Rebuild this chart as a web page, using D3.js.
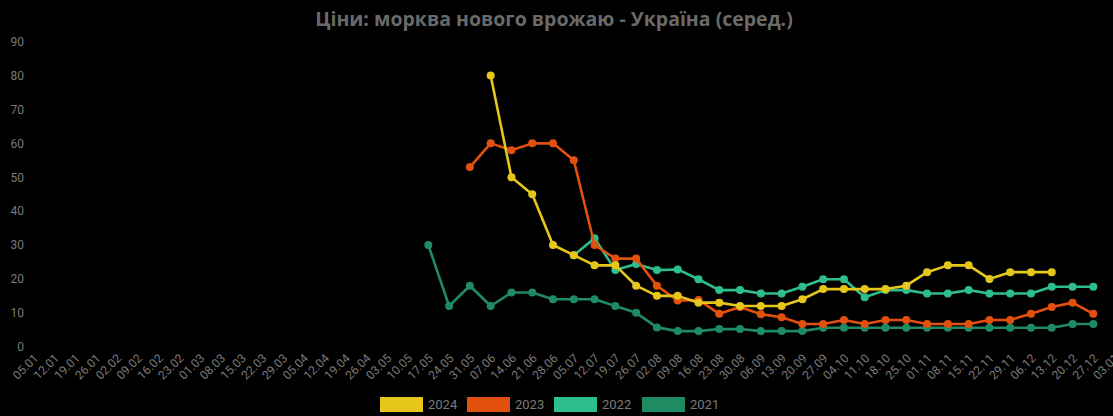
<!DOCTYPE html>
<html>
<head>
<meta charset="utf-8">
<script src="https://cdn.jsdelivr.net/npm/d3@7"></script>
<style>
  html, body { margin: 0; padding: 0; background: #000; }
  svg { display: block; }
</style>
</head>
<body>
<svg id="chart" width="1113" height="416"></svg>
<script>
const title = "Ціни: морква нового врожаю - Україна (серед.)";
const weekLabels = ["05.01","12.01","19.01","26.01","02.02","09.02","16.02","23.02","01.03","08.03","15.03","22.03","29.03","05.04","12.04","19.04","26.04","03.05","10.05","17.05","24.05","31.05","07.06","14.06","21.06","28.06","05.07","12.07","19.07","26.07","02.08","09.08","16.08","23.08","30.08","06.09","13.09","20.09","27.09","04.10","11.10","18.10","25.10","01.11","08.11","15.11","22.11","29.11","06.12","13.12","20.12","27.12","03.01"];
const yTicks = [0,10,20,30,40,50,60,70,80,90];

const seriesNames = ["2024","2023","2022","2021"];
const seriesColors = ["#E6C61B","#E2500E","#2EBE8D","#1F8B62"];

// start index in weekLabels + values
const start2024 = 22;
const values2024 = [80,50,45,30,27,24,24,18,15,15,13,13,12,12,12,14,17,17,17,17,18,22,24,24,20,22,22,22];
const start2023 = 21;
const values2023 = [53,60,58,60,60,55,30,26,26,18,13.6,13.8,9.7,11.7,9.6,8.7,6.7,6.7,7.9,6.7,7.9,7.9,6.7,6.7,6.7,7.9,7.9,9.7,11.7,13,9.7];
const start2022 = 26;
const values2022 = [27,32,22.6,24.4,22.6,22.8,19.9,16.7,16.7,15.7,15.7,17.7,19.9,19.9,14.6,16.7,16.7,15.7,15.7,16.7,15.7,15.7,15.7,17.7,17.7,17.7];
const start2021 = 19;
const values2021 = [30,12,18,12,16,16,14,14,14,12,10,5.7,4.6,4.6,5.2,5.2,4.6,4.6,4.6,5.6,5.6,5.6,5.6,5.6,5.6,5.6,5.6,5.6,5.6,5.6,5.6,6.7,6.7];

const series = [
  {name:"2021", color: seriesColors[3], start: start2021, values: values2021},
  {name:"2022", color: seriesColors[2], start: start2022, values: values2022},
  {name:"2023", color: seriesColors[1], start: start2023, values: values2023},
  {name:"2024", color: seriesColors[0], start: start2024, values: values2024}
].map(s => ({...s, points: s.values.map((v,i) => ({label: weekLabels[s.start+i], value: v}))}));

const svg = d3.select("#chart");
svg.append("rect").attr("width",1113).attr("height",416).attr("fill","#000");

const x = d3.scalePoint().domain(weekLabels).range([33.5, 1114.1]);
const y = d3.scaleLinear().domain([0,90]).range([346.7, 41.7]);

// title
svg.append("text")
  .attr("x", 554).attr("y", 26)
  .attr("text-anchor","middle")
  .attr("font-family","'Open Sans', sans-serif")
  .attr("font-weight",700)
  .attr("font-size",19.5)
  .attr("fill","#6a6a6a")
  .text(title);

// y axis
const yAxis = d3.axisLeft(y).tickValues(yTicks).tickSize(0).tickPadding(0);
const gy = svg.append("g").attr("transform","translate(24,0)").call(yAxis);
gy.select(".domain").remove();
gy.selectAll("text")
  .attr("font-family","Roboto, sans-serif")
  .attr("font-size",12)
  .attr("fill","#7a7a7a");

// x axis
const xAxis = d3.axisBottom(x).tickSize(0).tickPadding(0);
const gx = svg.append("g").attr("transform","translate(0,352)").call(xAxis);
gx.select(".domain").remove();
gx.selectAll("text")
  .attr("font-family","Roboto, sans-serif")
  .attr("font-size",12)
  .attr("fill","#7a7a7a")
  .attr("text-anchor","end")
  .attr("dy","0.35em")
  .attr("transform","translate(2,4) rotate(-45)");

// lines
const line = d3.line().x(d => x(d.label)).y(d => y(d.value));
const gs = svg.append("g").selectAll("g").data(series).join("g");
gs.append("path")
  .attr("d", d => line(d.points))
  .attr("fill","none")
  .attr("stroke", d => d.color)
  .attr("stroke-width",2.6)
  .attr("stroke-linejoin","round");
gs.selectAll("circle").data(d => d.points.map(p => ({...p, color: d.color}))).join("circle")
  .attr("cx", d => x(d.label))
  .attr("cy", d => y(d.value))
  .attr("r", 4)
  .attr("fill", d => d.color);

// legend
const legendX = [380, 467, 554, 642];
const lg = svg.append("g").selectAll("g").data(seriesNames).join("g")
  .attr("transform", (d,i) => `translate(${legendX[i]},397)`);
lg.append("rect").attr("width",43).attr("height",15)
  .attr("fill", (d,i) => seriesColors[i]);
lg.append("text").attr("x",48).attr("y",7.5).attr("dy","0.35em")
  .attr("font-family","Roboto, sans-serif").attr("font-size",13)
  .attr("fill","#7a7a7a").text(d => d);
</script>
</body>
</html>
